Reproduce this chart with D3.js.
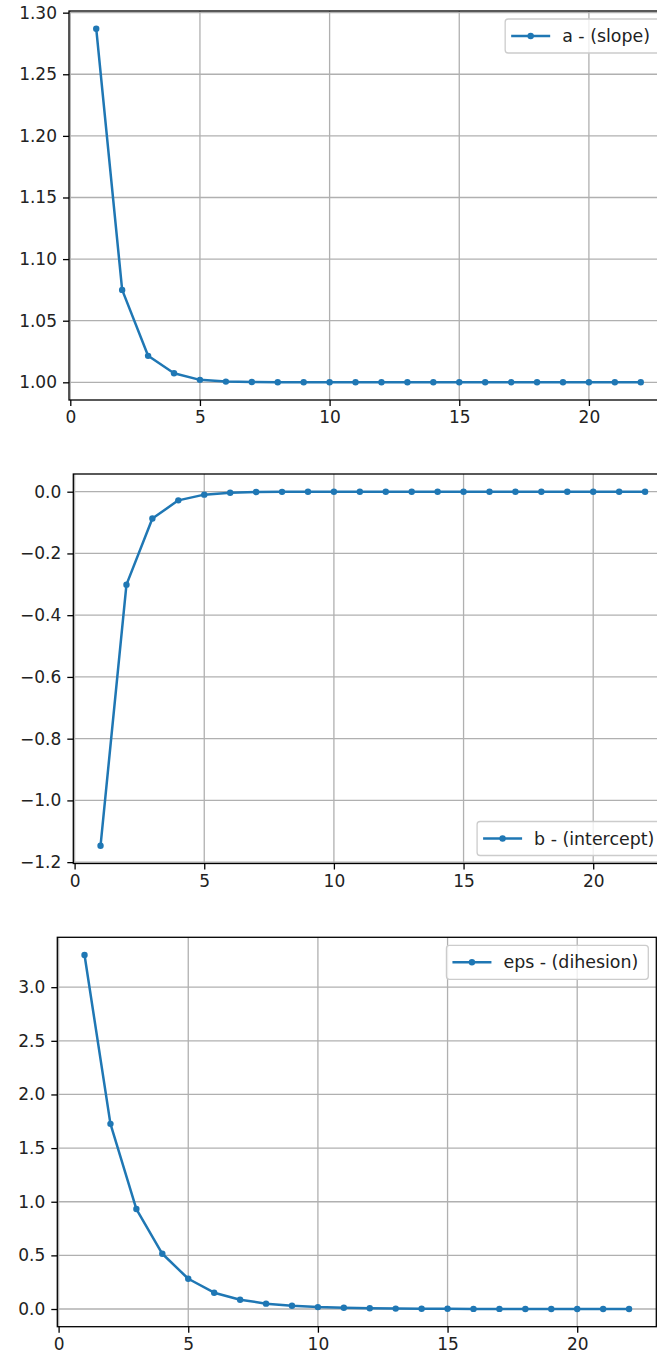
<!DOCTYPE html>
<html>
<head>
<meta charset="utf-8">
<script src="https://cdn.jsdelivr.net/npm/d3@7"></script>
<style>
    body { margin: 0; background: #fff; }
    svg { display: block; font-family: "DejaVu Sans", sans-serif; }
</style>
</head>
<body>
<svg id="chart"></svg>
<script>
const iterations = d3.range(1, 23);
const slopeA = [1.287, 1.075, 1.0215, 1.0073, 1.002, 1.0006, 1.0002, 1.0001, 1.0, 1.0, 1.0,
    1.0, 1.0, 1.0, 1.0, 1.0, 1.0, 1.0, 1.0, 1.0, 1.0, 1.0];
const interceptB = [-1.147, -0.301, -0.087, -0.028, -0.0095, -0.0032, -0.0011, -0.0004, -0.0001, 0, 0,
    0, 0, 0, 0, 0, 0, 0, 0, 0, 0, 0];
const dihesionEps = [3.30, 1.726, 0.932, 0.515, 0.282, 0.152, 0.087, 0.050, 0.030, 0.018, 0.012,
    0.007, 0.004, 0.003, 0.002, 0.001, 0.001, 0.0005, 0.0003, 0.0002, 0.0001, 0.0001];
const xTicks = [0, 5, 10, 15, 20];
const slopeTicks = [1.00, 1.05, 1.10, 1.15, 1.20, 1.25, 1.30];
const interceptTicks = [-1.2, -1.0, -0.8, -0.6, -0.4, -0.2, 0.0];
const epsTicks = [0.0, 0.5, 1.0, 1.5, 2.0, 2.5, 3.0];

const width = 657;
const height = 1358;
const blue = "#1f77b4";
const tickFont = 17;
const legendFont = 17.4;

let svg = d3.select("#chart")
    .attr("width", width)
    .attr("height", height);

// each panel: data + where its axes box sits
drawPanel({values: slopeA, ticks: slopeTicks, fmt: d3.format(".2f"), label: "a - (slope)",
    left: 69, top: 11, bottom: 400, legend: "top"});
drawPanel({values: interceptB, ticks: interceptTicks, fmt: d3.format(".1f"), label: "b - (intercept)",
    left: 73.3, top: 474, bottom: 863.5, legend: "bottom"});
drawPanel({values: dihesionEps, ticks: epsTicks, fmt: d3.format(".1f"), label: "eps - (dihesion)",
    left: 57.3, top: 937.3, bottom: 1326.7, legend: "top"});

function drawPanel(p) {
    let plotW = 599;
    let right = p.left + plotW;
    // matplotlib style 5% margins
    let xPad = (d3.max(iterations) - d3.min(iterations)) * 0.05;
    let x = d3.scaleLinear()
        .domain([d3.min(iterations) - xPad, d3.max(iterations) + xPad])
        .range([p.left, right]);
    let ext = d3.extent(p.values);
    let yPad = (ext[1] - ext[0]) * 0.05;
    let y = d3.scaleLinear()
        .domain([ext[0] - yPad, ext[1] + yPad])
        .range([p.bottom, p.top]);

    let g = svg.append("g");

    // grid
    g.append("g")
        .selectAll("line")
        .data(xTicks)
        .join("line")
        .attr("x1", d => x(d))
        .attr("x2", d => x(d))
        .attr("y1", p.top)
        .attr("y2", p.bottom)
        .attr("stroke", "#b0b0b0")
        .attr("stroke-width", 1.3);
    g.append("g")
        .selectAll("line")
        .data(p.ticks)
        .join("line")
        .attr("x1", p.left)
        .attr("x2", right)
        .attr("y1", d => y(d))
        .attr("y2", d => y(d))
        .attr("stroke", "#b0b0b0")
        .attr("stroke-width", 1.3);

    // series
    let pts = iterations.map((d, i) => [d, p.values[i]]);
    let line = d3.line()
        .x(d => x(d[0]))
        .y(d => y(d[1]));
    g.append("path")
        .datum(pts)
        .attr("d", line)
        .attr("fill", "none")
        .attr("stroke", blue)
        .attr("stroke-width", 2.5)
        .attr("stroke-linejoin", "round");
    g.append("g")
        .selectAll("circle")
        .data(pts)
        .join("circle")
        .attr("cx", d => x(d[0]))
        .attr("cy", d => y(d[1]))
        .attr("r", 3.2)
        .attr("fill", blue);

    // axes
    let xAxis = d3.axisBottom(x)
        .tickValues(xTicks)
        .tickFormat(d3.format("d"))
        .tickSize(6)
        .tickPadding(5);
    let yAxis = d3.axisLeft(y)
        .tickValues(p.ticks)
        .tickFormat(p.fmt)
        .tickSize(6)
        .tickPadding(6);
    let xg = g.append("g")
        .attr("transform", "translate(0," + p.bottom + ")")
        .call(xAxis);
    let yg = g.append("g")
        .attr("transform", "translate(" + p.left + ",0)")
        .call(yAxis);
    [xg, yg].forEach(a => {
        a.select(".domain").remove();
        a.selectAll(".tick line").attr("stroke", "#000").attr("stroke-width", 1.3);
        a.selectAll(".tick text")
            .attr("fill", "#222")
            .style("font-size", tickFont + "px")
            .style("font-family", "DejaVu Sans");
    });

    // frame
    g.append("rect")
        .attr("x", p.left)
        .attr("y", p.top)
        .attr("width", plotW)
        .attr("height", p.bottom - p.top)
        .attr("fill", "none")
        .attr("stroke", "#000")
        .attr("stroke-width", 1.3);

    legend(g, p, right);
}

function legend(g, p, right) {
    let boxH = 34;
    let pad = 8;
    let lg = g.append("g");
    let text = lg.append("text")
        .attr("font-size", legendFont)
        .attr("fill", "#222")
        .text(p.label);
    let textW = text.node().getComputedTextLength();
    let boxW = 6 + 39 + 12 + textW + 10;
    let bx = right - pad - boxW;
    let by = p.legend === "top" ? p.top + pad : p.bottom - pad - boxH;
    lg.insert("rect", "text")
        .attr("x", bx)
        .attr("y", by)
        .attr("width", boxW)
        .attr("height", boxH)
        .attr("rx", 3)
        .attr("fill", "#fff")
        .attr("fill-opacity", 0.8)
        .attr("stroke", "#cccccc")
        .attr("stroke-width", 1.3);
    let cy = by + boxH / 2;
    lg.insert("line", "text")
        .attr("x1", bx + 6)
        .attr("x2", bx + 45)
        .attr("y1", cy)
        .attr("y2", cy)
        .attr("stroke", blue)
        .attr("stroke-width", 2.5);
    lg.insert("circle", "text")
        .attr("cx", bx + 25.5)
        .attr("cy", cy)
        .attr("r", 3.2)
        .attr("fill", blue);
    text.attr("x", bx + 57)
        .attr("y", cy)
        .attr("dy", "0.35em");
}
</script>
</body>
</html>
